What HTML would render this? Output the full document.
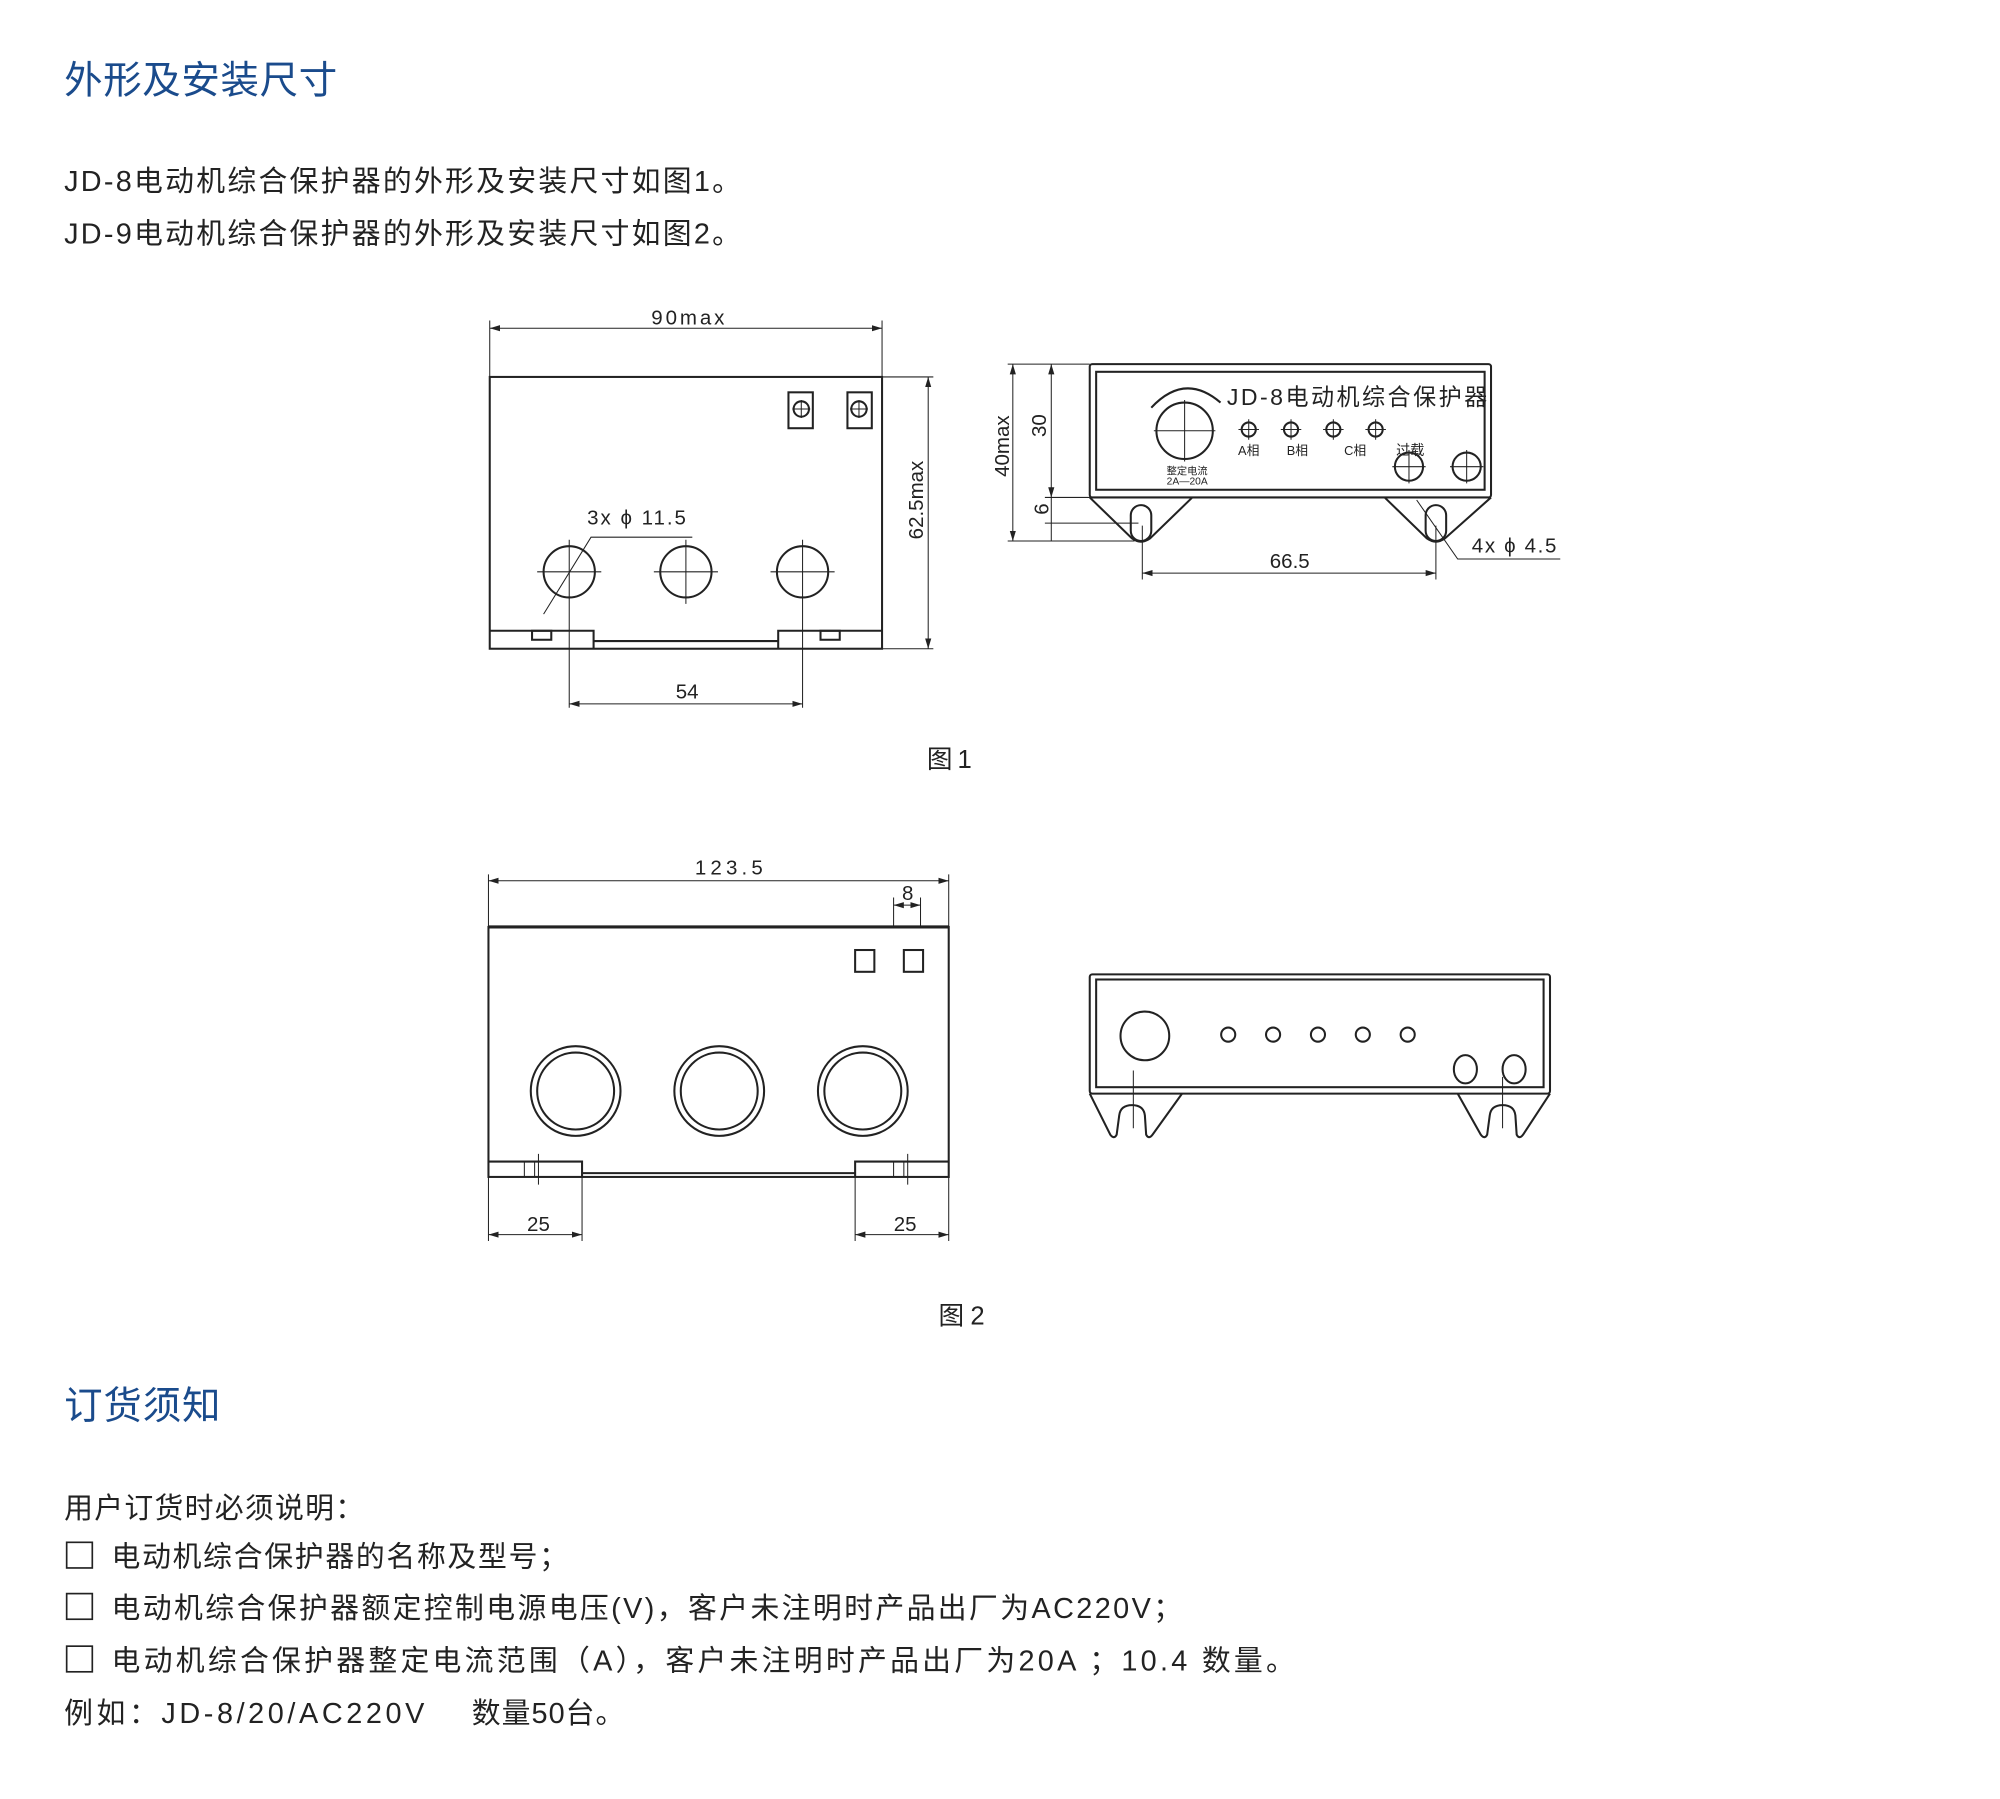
<!DOCTYPE html>
<html><head><meta charset="utf-8">
<style>
html,body{margin:0;padding:0;background:#fff;}
svg{display:block;}
text{font-family:"Liberation Sans","Noto Sans CJK SC",sans-serif;}
</style></head>
<body>
<svg width="2000" height="1799" viewBox="0 0 1560 1403.2" xmlns="http://www.w3.org/2000/svg">
<defs>
<marker id="a" viewBox="0 0 10 6" refX="10" refY="3" markerWidth="8" markerHeight="5" orient="auto-start-reverse" markerUnits="userSpaceOnUse"><path d="M0,0 L10,3 L0,6 z" fill="#222"/></marker>
</defs>
<rect width="1560" height="1404" fill="#fff"/>
<text x="50" y="73" font-size="30" fill="#1a4b8c" textLength="213" lengthAdjust="spacing">外形及安装尺寸</text>
<text x="50" y="149" font-size="22.5" fill="#222" textLength="528" lengthAdjust="spacing">JD-8电动机综合保护器的外形及安装尺寸如图1。</text>
<text x="50" y="190" font-size="22.5" fill="#222" textLength="528" lengthAdjust="spacing">JD-9电动机综合保护器的外形及安装尺寸如图2。</text>

<g fill="none" stroke="#222" stroke-width="1.6">
<rect x="382" y="294" width="306" height="212"/>
<line x1="463" y1="500" x2="607" y2="500"/>
<path d="M382,492 H463 V506 M607,506 V492 H688"/>
<rect x="415" y="492" width="15" height="7"/>
<rect x="640" y="492" width="15" height="7"/>
<rect x="615" y="306" width="19" height="28"/>
<rect x="661" y="306" width="19" height="28"/>
<circle cx="625" cy="319" r="6"/><circle cx="670" cy="319" r="6"/>
<circle cx="444" cy="446" r="20"/><circle cx="535" cy="446" r="20"/><circle cx="626" cy="446" r="20"/>
</g>
<g fill="none" stroke="#222" stroke-width="0.8">
<path d="M618,319 H632 M625,312 V326 M663,319 H677 M670,312 V326"/>
<path d="M419,446 H469 M444,421 V552 M510,446 H560 M535,421 V471 M601,446 H651 M626,421 V552"/>
<path d="M382,250 V294 M688,250 V294"/>
<line x1="382" y1="256" x2="688" y2="256" marker-start="url(#a)" marker-end="url(#a)"/>
<line x1="444" y1="549" x2="626" y2="549" marker-start="url(#a)" marker-end="url(#a)"/>
<path d="M688,294 H728 M688,506 H728"/>
<line x1="724" y1="294" x2="724" y2="506" marker-start="url(#a)" marker-end="url(#a)"/>
<path d="M540,419 H461 L424,479"/>
</g>
<text x="508" y="253" font-size="16" fill="#222" textLength="57" lengthAdjust="spacing">90max</text>
<text x="536" y="545" font-size="16" text-anchor="middle" fill="#222">54</text>
<text x="458" y="409" font-size="16" fill="#222" textLength="77" lengthAdjust="spacing">3x ϕ 11.5</text>
<text transform="translate(720,390) rotate(-90)" font-size="16" text-anchor="middle" fill="#222">62.5max</text>

<g fill="none" stroke="#222" stroke-width="1.6">
<rect x="850" y="284" width="313" height="104" rx="2"/>
<rect x="855" y="290" width="303" height="92"/>
<path d="M850,388 L883,420 Q890,425 897,420 L930,388"/>
<path d="M1080,388 L1113,420 Q1120,425 1127,420 L1163,388"/>
<rect x="882" y="394" width="16" height="28" rx="8"/>
<rect x="1112" y="394" width="16" height="28" rx="8"/>
<circle cx="924" cy="336" r="22"/>
<path d="M898,318 Q924,290 952,314"/>
<circle cx="974" cy="335" r="5.5"/><circle cx="1007" cy="335" r="5.5"/><circle cx="1040" cy="335" r="5.5"/><circle cx="1073" cy="335" r="5.5"/>
<circle cx="1099" cy="364" r="11"/><circle cx="1144" cy="364" r="11"/>
</g>
<g fill="none" stroke="#222" stroke-width="0.8">
<path d="M900,336 H948 M924,312 V360"/>
<path d="M966,335 H982 M974,327 V343 M999,335 H1015 M1007,327 V343 M1032,335 H1048 M1040,327 V343 M1065,335 H1081 M1073,327 V343"/>
<path d="M1086,364 H1112 M1099,351 V377 M1131,364 H1157 M1144,351 V377"/>
<path d="M786,284 H850 M815,388 H850 M815,408 H888 M786,422 H885"/>
<line x1="790" y1="284" x2="790" y2="422" marker-start="url(#a)" marker-end="url(#a)"/>
<line x1="820" y1="284" x2="820" y2="388" marker-start="url(#a)" marker-end="url(#a)"/>
<line x1="820" y1="388" x2="820" y2="422"/>
<path d="M891,410 V452 M1120,410 V452"/>
<line x1="891" y1="447" x2="1120" y2="447" marker-start="url(#a)" marker-end="url(#a)"/>
<path d="M1105,390 L1137,436 H1217"/>
</g>
<text x="957" y="316" font-size="18" fill="#222" textLength="203" lengthAdjust="spacing">JD-8电动机综合保护器</text>
<text x="974" y="355" font-size="10" text-anchor="middle" fill="#222">A相</text>
<text x="1012" y="355" font-size="10" text-anchor="middle" fill="#222">B相</text>
<text x="1057" y="355" font-size="10" text-anchor="middle" fill="#222">C相</text>
<text x="1100" y="355" font-size="11" text-anchor="middle" fill="#222">过载</text>
<text x="926" y="370" font-size="8" text-anchor="middle" fill="#222">整定电流</text>
<text x="926" y="378" font-size="8" text-anchor="middle" fill="#222">2A—20A</text>
<text transform="translate(787,348) rotate(-90)" font-size="16" text-anchor="middle" fill="#222">40max</text>
<text transform="translate(816,332) rotate(-90)" font-size="16" text-anchor="middle" fill="#222">30</text>
<text transform="translate(818,397) rotate(-90)" font-size="16" text-anchor="middle" fill="#222">6</text>
<text x="1006" y="443" font-size="16" text-anchor="middle" fill="#222">66.5</text>
<text x="1148" y="431" font-size="16" fill="#222" textLength="66" lengthAdjust="spacing">4x ϕ 4.5</text>
<text x="723" y="599" font-size="20" fill="#222" textLength="35" lengthAdjust="spacing">图1</text>

<g fill="none" stroke="#222" stroke-width="1.6">
<rect x="381" y="723" width="359" height="195"/>
<line x1="381" y1="723" x2="740" y2="723" stroke-width="2.5"/>
<line x1="454" y1="915" x2="667" y2="915"/>
<path d="M381,906 H454 V918 M667,918 V906 H740"/>
<rect x="667" y="741" width="15" height="17"/>
<rect x="705" y="741" width="15" height="17"/>
<circle cx="449" cy="851" r="35"/><circle cx="449" cy="851" r="30"/>
<circle cx="561" cy="851" r="35"/><circle cx="561" cy="851" r="30"/>
<circle cx="673" cy="851" r="35"/><circle cx="673" cy="851" r="30"/>
</g>
<g fill="none" stroke="#222" stroke-width="0.8">
<path d="M409,906 V918 M417,906 V918 M420,900 V924 M697,906 V918 M705,906 V918 M708,900 V924"/>
<path d="M381,682 V723 M740,682 V723 M697,700 V723 M718,700 V723"/>
<line x1="381" y1="687" x2="740" y2="687" marker-start="url(#a)" marker-end="url(#a)"/>
<line x1="697" y1="706" x2="718" y2="706" marker-start="url(#a)" marker-end="url(#a)"/>
<path d="M381,918 V968 M454,918 V968 M667,918 V968 M740,918 V968"/>
<line x1="381" y1="963" x2="454" y2="963" marker-start="url(#a)" marker-end="url(#a)"/>
<line x1="667" y1="963" x2="740" y2="963" marker-start="url(#a)" marker-end="url(#a)"/>
</g>
<text x="542" y="682" font-size="16" fill="#222" textLength="53" lengthAdjust="spacing">123.5</text>
<text x="708" y="702" font-size="16" text-anchor="middle" fill="#222">8</text>
<text x="420" y="960" font-size="16" text-anchor="middle" fill="#222">25</text>
<text x="706" y="960" font-size="16" text-anchor="middle" fill="#222">25</text>

<g fill="none" stroke="#222" stroke-width="1.6">
<rect x="850" y="760" width="359" height="93" rx="2"/>
<rect x="855" y="764" width="349" height="84"/>
<path d="M850,853 L866,885 Q869,889 871,885 L873,870 Q874,862 883,862 Q892,862 893,870 L894,885 Q896,889 899,885 L922,853"/>
<path d="M1137,853 L1155,885 Q1158,889 1160,885 L1162,870 Q1163,862 1172,862 Q1181,862 1182,870 L1183,885 Q1185,889 1188,885 L1209,853"/>
<circle cx="893" cy="808" r="19"/>
<circle cx="958" cy="807" r="5.5"/><circle cx="993" cy="807" r="5.5"/><circle cx="1028" cy="807" r="5.5"/><circle cx="1063" cy="807" r="5.5"/><circle cx="1098" cy="807" r="5.5"/>
<ellipse cx="1143" cy="834" rx="9" ry="11"/><ellipse cx="1181" cy="834" rx="9" ry="11"/>
</g>
<g stroke="#222" stroke-width="0.8"><path d="M884,835 V880 M1172,840 V880"/></g>
<text x="732" y="1033" font-size="20" fill="#222" textLength="36" lengthAdjust="spacing">图2</text>

<text x="50" y="1107" font-size="30" fill="#1a4b8c" textLength="122" lengthAdjust="spacing">订货须知</text>
<text x="50" y="1184" font-size="22.5" fill="#222" textLength="234" lengthAdjust="spacing">用户订货时必须说明：</text>
<g fill="none" stroke="#222" stroke-width="1.3">
<rect x="52" y="1203" width="20" height="20"/>
<rect x="52" y="1243" width="20" height="20"/>
<rect x="52" y="1284" width="20" height="20"/>
</g>
<text x="87" y="1222" font-size="22.5" fill="#222" textLength="356" lengthAdjust="spacing">电动机综合保护器的名称及型号；</text>
<text x="87" y="1262" font-size="22.5" fill="#222" textLength="835" lengthAdjust="spacing">电动机综合保护器额定控制电源电压(V)，客户未注明时产品出厂为AC220V；</text>
<text x="87" y="1303" font-size="22.5" fill="#222" textLength="923" lengthAdjust="spacing">电动机综合保护器整定电流范围（A），客户未注明时产品出厂为20A ；10.4 数量。</text>
<text x="50" y="1344" font-size="22.5" fill="#222" textLength="281" lengthAdjust="spacing">例如：JD-8/20/AC220V</text>
<text x="368" y="1344" font-size="22.5" fill="#222" textLength="119" lengthAdjust="spacing">数量50台。</text>
</svg>
</body></html>
